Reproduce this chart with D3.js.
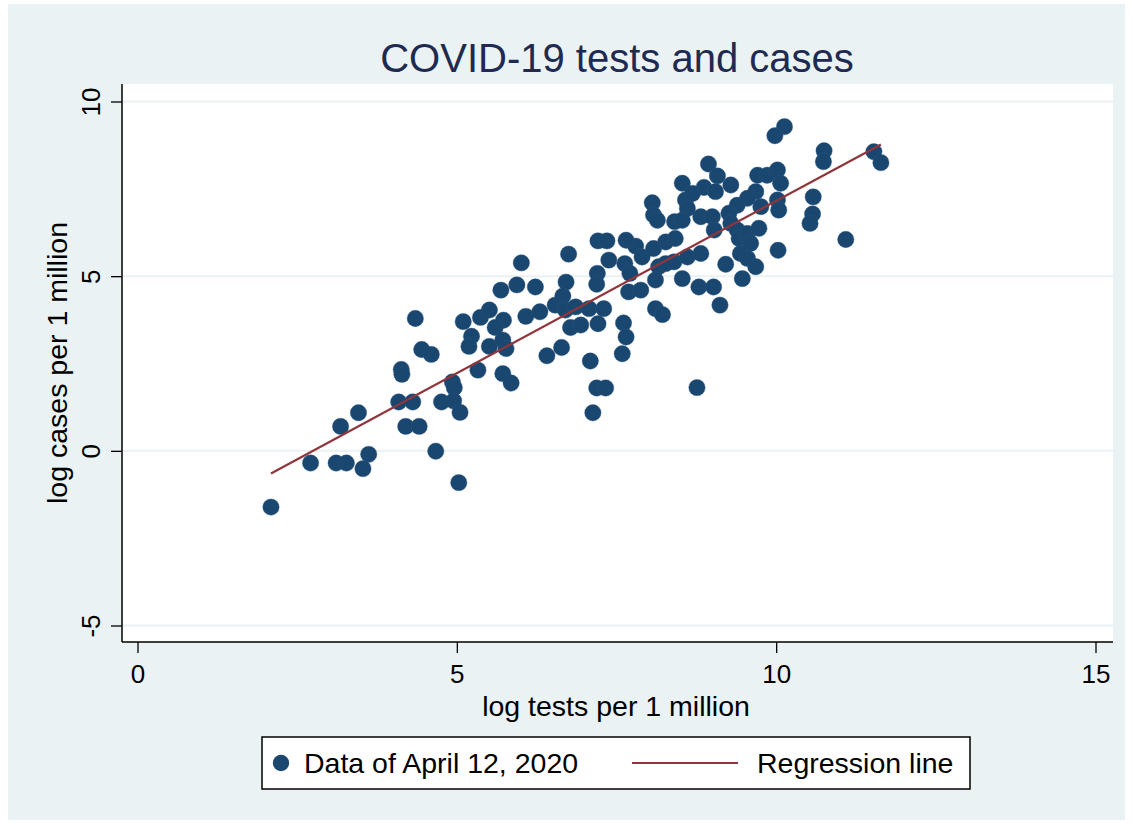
<!DOCTYPE html>
<html><head><meta charset="utf-8">
<script src="https://cdn.jsdelivr.net/npm/d3@7"></script>
<style>body{margin:0;background:#fff;} text{font-family:"Liberation Sans",Arial,sans-serif;}</style>
</head><body>
<svg id="chart" width="1133" height="824"></svg>
<script>
const title = "COVID-19 tests and cases";
const xLabel = "log tests per 1 million";
const yLabel = "log cases per 1 million";
const legendLabels = ["Data of April 12, 2020", "Regression line"];
const xTicks = [0, 5, 10, 15];
const yTicks = [-5, 0, 5, 10];
// log tests per 1 million
const logTests = [2.09,2.71,3.11,3.27,3.46,3.18,3.62,3.53,4.09,4.31,4.20,4.41,4.67,5.03,4.13,4.14,4.35,4.45,4.60,4.76,
4.93,4.96,4.95,5.05,5.10,5.23,5.19,5.33,5.37,6.01,6.75,5.69,5.94,6.23,6.71,6.66,6.54,6.70,6.86,7.07,
7.30,7.20,7.19,7.38,7.21,7.35,7.63,7.71,7.69,7.88,7.61,7.65,7.59,7.21,6.78,6.94,6.64,6.41,7.09,7.19,
7.33,7.13,6.08,6.30,5.73,5.60,5.51,5.51,5.72,5.77,5.72,5.85,7.80,7.65,7.90,8.08,8.27,8.42,8.41,8.16,
8.11,8.27,8.40,8.61,8.82,8.53,8.79,9.02,9.21,9.12,8.11,8.22,8.76,8.94,9.08,8.53,8.87,9.05,9.29,9.71,
9.86,10.02,10.07,9.68,9.55,9.39,9.26,9.76,10.02,10.04,10.58,10.57,10.53,10.13,9.98,10.75,10.74,11.53,11.64,11.09,
10.03,8.06,8.08,8.14,8.58,8.61,8.69,8.53,8.82,9.00,9.03,9.29,9.39,9.42,9.55,9.60,9.73,9.44,9.55,9.68,9.47];
// log cases per 1 million
const logCases = [-1.61,-0.35,-0.35,-0.35,1.09,0.70,-0.10,-0.51,1.40,1.40,0.70,0.70,-0.01,-0.91,2.33,2.19,3.79,2.90,2.76,1.40,
1.97,1.81,1.43,1.10,3.70,3.28,2.99,2.31,3.82,5.38,5.63,4.60,4.75,4.69,4.83,4.43,4.17,4.03,4.12,4.07,
4.07,5.08,4.77,5.46,6.01,6.01,5.36,5.08,4.55,4.60,3.66,3.26,2.78,3.64,3.53,3.60,2.96,2.72,2.57,1.80,
1.80,1.09,3.85,3.98,3.74,3.53,4.03,2.99,3.17,2.93,2.21,1.94,5.86,6.03,5.55,5.79,5.98,6.08,6.56,5.27,
4.89,5.36,5.41,5.55,5.65,4.93,4.69,4.69,5.34,4.17,4.07,3.90,1.81,8.21,7.87,7.66,7.54,7.42,7.61,7.89,
7.89,8.04,7.66,7.42,7.23,7.03,6.80,6.99,7.18,6.89,7.27,6.78,6.51,9.28,9.02,8.59,8.28,8.56,8.25,6.05,
5.74,7.10,6.75,6.60,7.18,6.94,7.37,6.60,6.70,6.70,6.32,6.51,6.32,6.08,6.22,5.94,6.37,5.65,5.51,5.27,4.93];
// regression line end points
const regX = [2.09, 11.64];
const regY = [-0.65, 8.77];

const svg = d3.select("#chart");
const bg = "#eaf2f3", navy = "#1a476f", maroon = "#90353b";
svg.append("rect").attr("x",8).attr("y",4).attr("width",1117).attr("height",816).attr("fill",bg);
const plot = {l:122, r:1113, t:84, b:642};
svg.append("rect").attr("x",plot.l).attr("y",plot.t).attr("width",plot.r-plot.l).attr("height",plot.b-plot.t).attr("fill","#fff");

const x = d3.scaleLinear().domain([0,15]).range([137.5,1095.5]);
const y = d3.scaleLinear().domain([-5,10]).range([625.5,101.5]);
const fmt = d => String(d);

// gridlines
svg.append("g").selectAll("line").data(yTicks).join("line")
  .attr("x1",plot.l).attr("x2",plot.r).attr("y1",d=>y(d)).attr("y2",d=>y(d))
  .attr("stroke",bg).attr("stroke-width",2);

// axes
const xAxis = svg.append("g").attr("transform",`translate(0,${plot.b})`)
  .call(d3.axisBottom(x).tickValues(xTicks).tickSize(11).tickPadding(12).tickFormat(fmt));
xAxis.select(".domain").attr("d",`M${plot.l},0H${plot.r}`).attr("stroke","#000").attr("stroke-width",1.5);
xAxis.selectAll(".tick line").attr("stroke","#000").attr("stroke-width",1.3);
xAxis.selectAll(".tick text").attr("font-size",26).attr("fill","#000").attr("font-family","Liberation Sans, Arial, sans-serif");

const yAxis = svg.append("g").attr("transform",`translate(${plot.l},0)`)
  .call(d3.axisLeft(y).tickValues(yTicks).tickSize(11).tickFormat(fmt));
yAxis.select(".domain").attr("d",`M0,${plot.t}V${plot.b}`).attr("stroke","#000").attr("stroke-width",1.5);
yAxis.selectAll(".tick line").attr("stroke","#000").attr("stroke-width",1.3);
yAxis.selectAll(".tick text").attr("font-size",26).attr("fill","#000").attr("font-family","Liberation Sans, Arial, sans-serif")
  .attr("x",0).attr("dy",0).attr("text-anchor","middle")
  .attr("transform","translate(-22,0) rotate(-90)");

// points
svg.append("g").selectAll("circle").data(logTests.map((t,i)=>[t,logCases[i]])).join("circle")
  .attr("cx",d=>x(d[0])).attr("cy",d=>y(d[1])).attr("r",8.2)
  .attr("fill",navy).attr("stroke","#2c5680").attr("stroke-width",0.4);

// regression line
svg.append("line").attr("x1",x(regX[0])).attr("y1",y(regY[0])).attr("x2",x(regX[1])).attr("y2",y(regY[1]))
  .attr("stroke",maroon).attr("stroke-width",2.2);

// titles
svg.append("text").attr("x",617).attr("y",72).attr("text-anchor","middle").attr("font-size",40)
  .attr("fill","#1e2a52").text(title);
svg.append("text").attr("x",616).attr("y",716).attr("text-anchor","middle").attr("font-size",28.5)
  .attr("fill","#000").text(xLabel);
svg.append("text").attr("transform",`translate(67,${(plot.t+plot.b)/2}) rotate(-90)`).attr("text-anchor","middle")
  .attr("font-size",28.5).attr("fill","#000").text(yLabel);

// legend
const lg = svg.append("g");
lg.append("rect").attr("x",262).attr("y",737).attr("width",708).attr("height",52).attr("fill","#fff")
  .attr("stroke","#000").attr("stroke-width",1.5);
lg.append("circle").attr("cx",281).attr("cy",763).attr("r",8.2).attr("fill",navy);
lg.append("text").attr("x",304).attr("y",773).attr("font-size",28.5).attr("fill","#000").text(legendLabels[0]);
lg.append("line").attr("x1",632).attr("x2",738).attr("y1",763).attr("y2",763).attr("stroke",maroon).attr("stroke-width",2.2);
lg.append("text").attr("x",757).attr("y",773).attr("font-size",28.5).attr("fill","#000").text(legendLabels[1]);
</script>
</body></html>
